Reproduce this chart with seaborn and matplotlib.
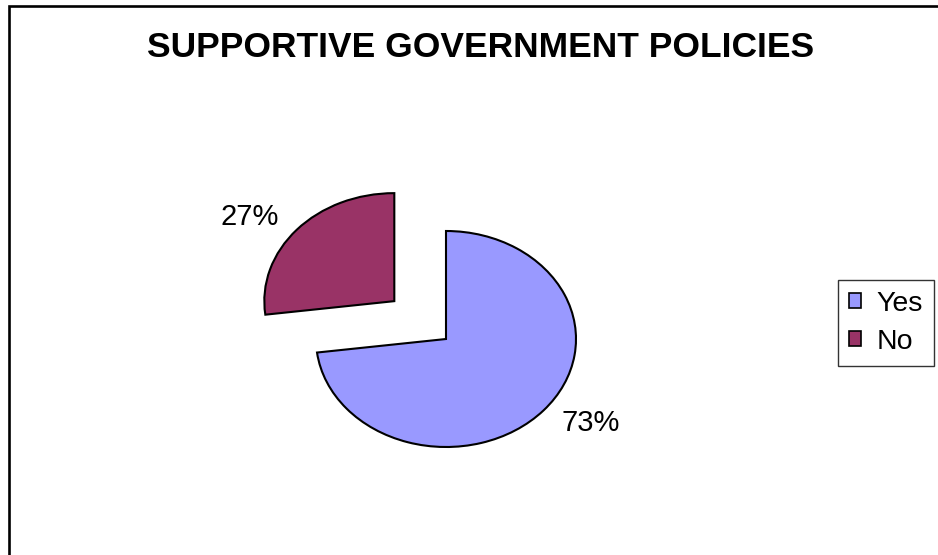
import matplotlib
matplotlib.use("Agg")
import matplotlib.pyplot as plt
import seaborn as sns
from matplotlib.patches import Rectangle

categories = ["Yes", "No"]
values = [73, 27]
pct_labels = [f"{v}%" for v in values]
colors = ["#9999FF", "#993366"]
title = "SUPPORTIVE GOVERNMENT POLICIES"

sns.set_theme(style="white")
plt.rcParams["font.family"] = ["Liberation Sans", "DejaVu Sans"]

W, H = 938, 555
fig = plt.figure(figsize=(W / 100, H / 100), dpi=100)
fig.patch.set_facecolor("white")
ax = fig.add_axes([0, 0, 1, 1])

wedges, texts = ax.pie(
    values,
    startangle=90,
    counterclock=False,
    colors=colors,
    explode=[0, 0.53],
    labels=pct_labels,
    labeldistance=1.18,
    wedgeprops=dict(edgecolor="black", linewidth=1.5),
    textprops=dict(fontsize=21, color="black"),
)

# elliptical pie: x unit = 130 px, y unit = 108 px, centre at (446, 339) px
cx, cy, rx, ry = 446, 339, 130, 108
ax.set_aspect("auto")
ax.set_xlim(-cx / rx, (W - cx) / rx)
ax.set_ylim(-(H - cy) / ry, cy / ry)
ax.axis("off")

fig.text(481 / W, 1 - 57 / H, title, ha="center", va="baseline",
         fontsize=25.5, fontweight="bold", color="black")

leg = ax.legend(
    wedges, categories,
    loc="upper left",
    bbox_to_anchor=(838 / W, 1 - 280 / H),
    bbox_transform=fig.transFigure,
    fontsize=20.5,
    labelcolor="black",
    frameon=True,
    fancybox=False,
    shadow=False,
    handlelength=0.42,
    handleheight=0.42,
    handletextpad=0.55,
    borderpad=0.38,
    labelspacing=0.42,
    borderaxespad=0,
)
leg.get_frame().set_edgecolor("black")
leg.get_frame().set_linewidth(1.0)
leg.get_frame().set_facecolor("white")
for h in leg.legend_handles:
    h.set_edgecolor("black")
    h.set_linewidth(1.2)

# outer chart border (extends past right and bottom edges)
fig.add_artist(Rectangle((8.5 / W, -0.1), 1.2, (H - 6) / H + 0.1,
                         transform=fig.transFigure, fill=False,
                         edgecolor="black", linewidth=1.9))

fig.savefig("out.png", dpi=100)
